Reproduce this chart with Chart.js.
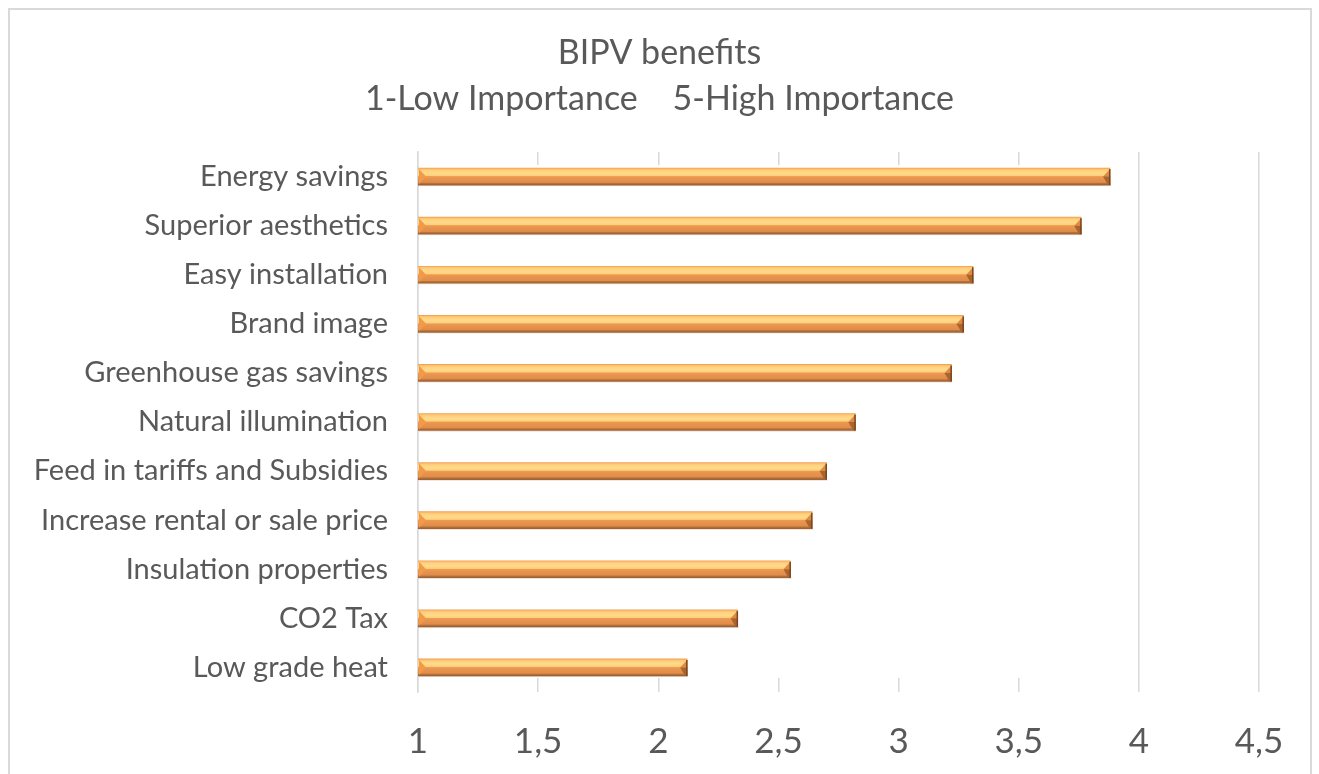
<!DOCTYPE html>
<html>
<head>
<meta charset="utf-8">
<script src="https://cdn.jsdelivr.net/npm/chart.js@4/dist/chart.umd.min.js"></script>
<style>
  body { margin: 0; background: #fff; overflow: hidden; }
  #frame {
    position: absolute; left: 8px; top: 8px; width: 1304px; height: 800px;
    border: 2px solid #D9D9D9; box-sizing: border-box;
  }
  #chart { position: absolute; left: 0; top: 0; }
</style>
</head>
<body>
<div id="frame"></div>
<canvas id="chart" width="1319" height="774"></canvas>
<script>
/* chart data */
const titleLines = ['BIPV benefits', '1-Low Importance    5-High Importance'];
const categories = [
    'Energy savings',
    'Superior aesthetics',
    'Easy installation',
    'Brand image',
    'Greenhouse gas savings',
    'Natural illumination',
    'Feed in tariffs and Subsidies',
    'Increase rental or sale price',
    'Insulation properties',
    'CO2 Tax',
    'Low grade heat'
];
const scores = [3.88, 3.76, 3.31, 3.27, 3.22, 2.82, 2.70, 2.64, 2.55, 2.33, 2.12];
const axisMin = 1;
const axisMax = 4.5;
const axisStep = 0.5;

const textColor = '#595959';
const gridColor = '#D9D9D9';
const fontFamily = 'Lato, "Open Sans", sans-serif';
const barSize = 17;

/* vertical gradient for each bar, centred on its category */
function barFill(context) {
    const chart = context.chart;
    const yc = chart.scales.y ? chart.scales.y.getPixelForValue(context.dataIndex) : NaN;
    if (!Number.isFinite(yc)) return '#E8944F';
    const g = chart.ctx.createLinearGradient(0, yc - barSize / 2, 0, yc + barSize / 2);
    g.addColorStop(0.00, '#F0A055');
    g.addColorStop(0.07, '#FFC470');
    g.addColorStop(0.16, '#FFD27E');
    g.addColorStop(0.30, '#FFDA8B');
    g.addColorStop(0.45, '#FFD07C');
    g.addColorStop(0.50, '#EE9C52');
    g.addColorStop(0.58, '#E9954F');
    g.addColorStop(0.84, '#E08D4A');
    g.addColorStop(0.90, '#B8733C');
    g.addColorStop(1.00, '#9A5C2C');
    return g;
}

/* centre the title over the frame rather than over the padded box */
const titleCentre = {
    id: 'titleCentre',
    afterLayout(chart) {
        const tb = chart.titleBlock;
        if (tb) tb.left = chart.width - tb.right;
    }
};

/* hides the grid inside the bar block, as in the original */
const gridMask = {
    id: 'gridMask',
    beforeDatasetsDraw(chart) {
        const bars = chart.getDatasetMeta(0).data;
        if (!bars.length) return;
        const ctx = chart.ctx;
        const first = bars[0].getProps(['y', 'height'], true);
        const last = bars[bars.length - 1].getProps(['y', 'height'], true);
        let right = 0;
        for (const b of bars) right = Math.max(right, b.getProps(['x'], true).x);
        const left = chart.chartArea.left + 1;
        const top = first.y - first.height / 2 - 3;
        const bottom = last.y + last.height / 2 + 2;
        ctx.save();
        ctx.fillStyle = '#fff';
        ctx.fillRect(left, top, right + 4 - left, bottom - top);
        ctx.restore();
    }
};

/* bevelled ends of the bars */
const barBevel = {
    id: 'barBevel',
    afterDatasetsDraw(chart) {
        const ctx = chart.ctx;
        const areaLeft = chart.chartArea.left;
        ctx.save();
        for (const b of chart.getDatasetMeta(0).data) {
            const p = b.getProps(['x', 'y', 'base', 'height'], true);
            const left = Math.max(p.base, areaLeft + 1);
            const top = p.y - p.height / 2;
            const bot = p.y + p.height / 2;
            const w = 7;

            // soft shadow under the bar
            ctx.fillStyle = 'rgba(190,140,110,0.35)';
            ctx.fillRect(left, bot, p.x - left + 1, 1);

            // left facet
            ctx.fillStyle = '#F29A48';
            ctx.beginPath();
            ctx.moveTo(left, top + 1);
            ctx.lineTo(left + w, p.y);
            ctx.lineTo(left, bot - 1);
            ctx.closePath();
            ctx.fill();

            // right facet, upper half
            ctx.fillStyle = '#DF8A43';
            ctx.beginPath();
            ctx.moveTo(p.x, top + 1);
            ctx.lineTo(p.x - w, p.y);
            ctx.lineTo(p.x, p.y);
            ctx.closePath();
            ctx.fill();

            // right facet, lower half
            ctx.fillStyle = '#A9652F';
            ctx.beginPath();
            ctx.moveTo(p.x, p.y);
            ctx.lineTo(p.x - w, p.y);
            ctx.lineTo(p.x - 2, bot);
            ctx.lineTo(p.x, bot);
            ctx.closePath();
            ctx.fill();

            // dark right edge
            ctx.fillStyle = '#7B4520';
            ctx.fillRect(p.x - 1, top + 1, 1.5, p.height - 1);
        }
        ctx.restore();
    }
};

/* Init the chart */
function initBenefitsChart() {
    const ctx = document.getElementById('chart');
    return new Chart(ctx, {
        type: 'bar',
        data: {
            labels: categories,
            datasets: [{
                data: scores,
                backgroundColor: barFill,
                borderWidth: 0,
                barThickness: barSize
            }]
        },
        options: {
            indexAxis: 'y',
            responsive: false,
            animation: false,
            devicePixelRatio: 1,
            layout: { padding: { left: 0, right: 60, top: 0, bottom: 0 } },
            plugins: {
                legend: { display: false },
                tooltip: { enabled: false },
                title: {
                    display: true,
                    text: titleLines,
                    color: textColor,
                    font: { family: fontFamily, size: 34, weight: 'normal', lineHeight: 1.353 },
                    padding: { top: 30, bottom: 30 }
                }
            },
            scales: {
                x: {
                    type: 'linear',
                    min: axisMin,
                    max: axisMax,
                    ticks: {
                        stepSize: axisStep,
                        color: textColor,
                        font: { family: fontFamily, size: 35 },
                        padding: 29,
                        callback: v => String(v).replace('.', ',')
                    },
                    grid: { color: gridColor, lineWidth: 1.5, drawTicks: false },
                    border: { display: false },
                    afterFit: s => { s.height = 82; }
                },
                y: {
                    ticks: {
                        color: textColor,
                        font: { family: fontFamily, size: 29 },
                        padding: 30
                    },
                    grid: { display: false, drawTicks: false },
                    border: { color: gridColor, width: 1.5 },
                    afterFit: s => { s.width = 418; }
                }
            }
        },
        plugins: [titleCentre, gridMask, barBevel]
    });
}

var benefitsChart = initBenefitsChart();
</script>
</body>
</html>
